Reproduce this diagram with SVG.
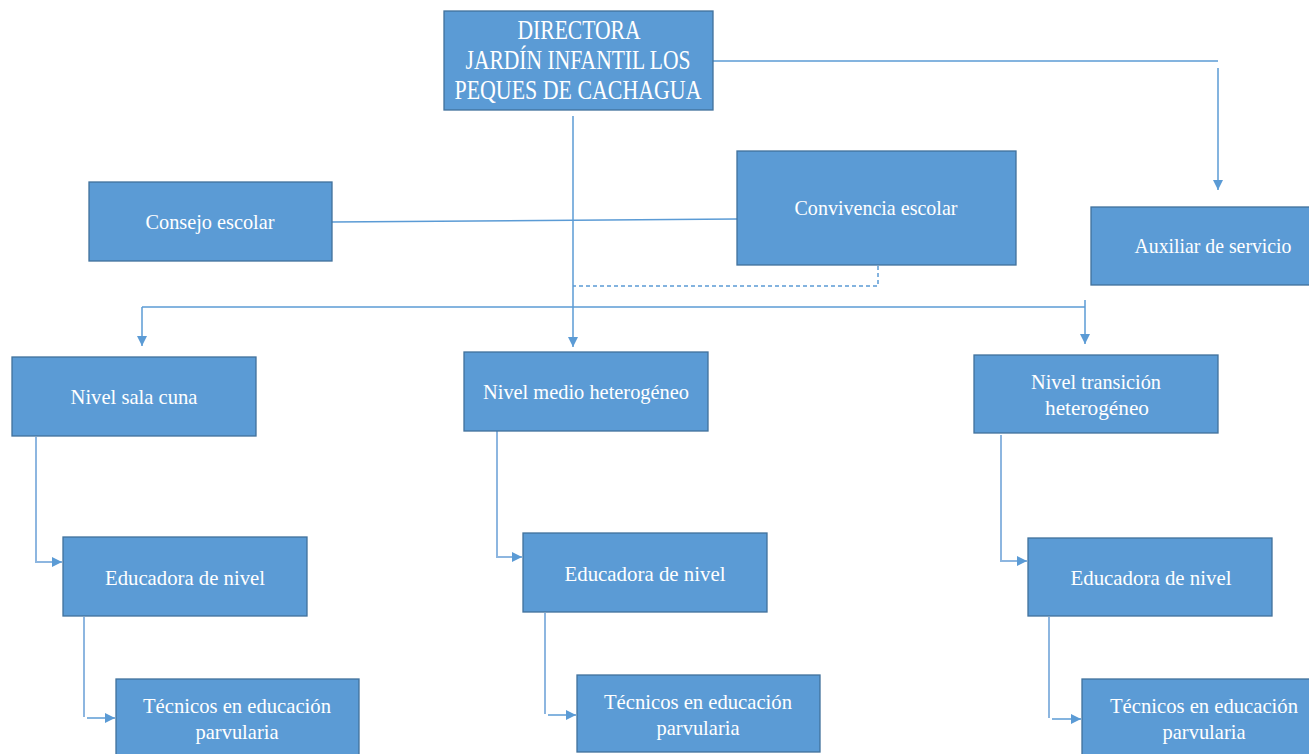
<svg xmlns="http://www.w3.org/2000/svg" width="1309" height="754" viewBox="0 0 1309 754">
<style>
.box{fill:#5b9bd5;stroke:#41719c;stroke-width:1.3}
.t{font-family:"Liberation Serif","DejaVu Serif",serif;fill:#ffffff;text-anchor:middle}
.s{font-size:21px}
.b{font-size:28px}
.c{fill:none;stroke:#5b9bd5;stroke-width:1.5}
.cl{fill:none;stroke:#8db6e0;stroke-width:2}
.d{fill:none;stroke:#5b9bd5;stroke-width:1.5;stroke-dasharray:4 3}
</style>
<defs>
<marker id="ah" markerUnits="userSpaceOnUse" markerWidth="10" markerHeight="10" refX="10" refY="5" orient="auto">
<path d="M0,0 L10,5 L0,10 z" fill="#5b9bd5"/>
</marker>
</defs>
<rect width="1309" height="754" fill="#ffffff"/>
<g id="connectors">
<path class="c" d="M713,61 H1218"/>
<path class="c" d="M1218,68 V190" marker-end="url(#ah)"/>
<path class="c" d="M332,222 L737,219"/>
<path class="c" d="M573,116 V347" marker-end="url(#ah)"/>
<path class="d" d="M878,266 V286 H573"/>
<path class="c" d="M142,307 H1085"/>
<path class="c" d="M142,307 V346" marker-end="url(#ah)"/>
<path class="c" d="M1085,300 V344" marker-end="url(#ah)"/>
<path class="cl" d="M36,437 V562 H62" marker-end="url(#ah)"/>
<path class="cl" d="M497,431 V557 H522" marker-end="url(#ah)"/>
<path class="cl" d="M1001,435 V561 H1027" marker-end="url(#ah)"/>
<path class="cl" d="M84,617 V717"/>
<path class="c" d="M87,718 H115" marker-end="url(#ah)"/>
<path class="cl" d="M545,613 V714"/>
<path class="c" d="M548,715 H576" marker-end="url(#ah)"/>
<path class="cl" d="M1049,617 V718"/>
<path class="c" d="M1052,719 H1081" marker-end="url(#ah)"/>
</g>
<g id="directora">
<rect class="box" x="444" y="11" width="269" height="99"/>
<text class="t b" x="579" y="39" textLength="123" lengthAdjust="spacingAndGlyphs">DIRECTORA</text>
<text class="t b" x="578" y="69" textLength="225" lengthAdjust="spacingAndGlyphs">JARDÍN INFANTIL LOS</text>
<text class="t b" x="578" y="99" textLength="247" lengthAdjust="spacingAndGlyphs">PEQUES DE CACHAGUA</text>
</g>
<g id="consejo">
<rect class="box" x="89" y="182" width="243" height="79"/>
<text class="t s" x="210" y="229" textLength="129" lengthAdjust="spacingAndGlyphs">Consejo escolar</text>
</g>
<g id="convivencia">
<rect class="box" x="737" y="151" width="279" height="114"/>
<text class="t s" x="876" y="215" textLength="163" lengthAdjust="spacingAndGlyphs">Convivencia escolar</text>
</g>
<g id="auxiliar">
<rect class="box" x="1091" y="207" width="222" height="78"/>
<text class="t s" x="1213" y="253" textLength="157" lengthAdjust="spacingAndGlyphs">Auxiliar de servicio</text>
</g>
<g id="sala-cuna">
<rect class="box" x="12" y="357" width="244" height="79"/>
<text class="t s" x="134" y="404" textLength="127" lengthAdjust="spacingAndGlyphs">Nivel sala cuna</text>
</g>
<g id="medio">
<rect class="box" x="464" y="352" width="244" height="79"/>
<text class="t s" x="586" y="399" textLength="206" lengthAdjust="spacingAndGlyphs">Nivel medio heterogéneo</text>
</g>
<g id="transicion">
<rect class="box" x="974" y="355" width="244" height="78"/>
<text class="t s" x="1096" y="389" textLength="130" lengthAdjust="spacingAndGlyphs">Nivel transición</text>
<text class="t s" x="1097" y="415" textLength="104" lengthAdjust="spacingAndGlyphs">heterogéneo</text>
</g>
<g id="educadora-1">
<rect class="box" x="63" y="537" width="244" height="79"/>
<text class="t s" x="185" y="585" textLength="160" lengthAdjust="spacingAndGlyphs">Educadora de nivel</text>
</g>
<g id="educadora-2">
<rect class="box" x="523" y="533" width="244" height="79"/>
<text class="t s" x="645" y="581" textLength="161" lengthAdjust="spacingAndGlyphs">Educadora de nivel</text>
</g>
<g id="educadora-3">
<rect class="box" x="1028" y="538" width="244" height="78"/>
<text class="t s" x="1151" y="585" textLength="161" lengthAdjust="spacingAndGlyphs">Educadora de nivel</text>
</g>
<g id="tecnicos-1">
<rect class="box" x="116" y="679" width="243" height="80"/>
<text class="t s" x="237" y="713" textLength="188" lengthAdjust="spacingAndGlyphs">Técnicos en educación</text>
<text class="t s" x="237" y="739" textLength="83" lengthAdjust="spacingAndGlyphs">parvularia</text>
</g>
<g id="tecnicos-2">
<rect class="box" x="577" y="675" width="243" height="77"/>
<text class="t s" x="698" y="709" textLength="188" lengthAdjust="spacingAndGlyphs">Técnicos en educación</text>
<text class="t s" x="698" y="735" textLength="83" lengthAdjust="spacingAndGlyphs">parvularia</text>
</g>
<g id="tecnicos-3">
<rect class="box" x="1082" y="679" width="240" height="80"/>
<text class="t s" x="1204" y="713" textLength="188" lengthAdjust="spacingAndGlyphs">Técnicos en educación</text>
<text class="t s" x="1204" y="739" textLength="83" lengthAdjust="spacingAndGlyphs">parvularia</text>
</g>
</svg>
